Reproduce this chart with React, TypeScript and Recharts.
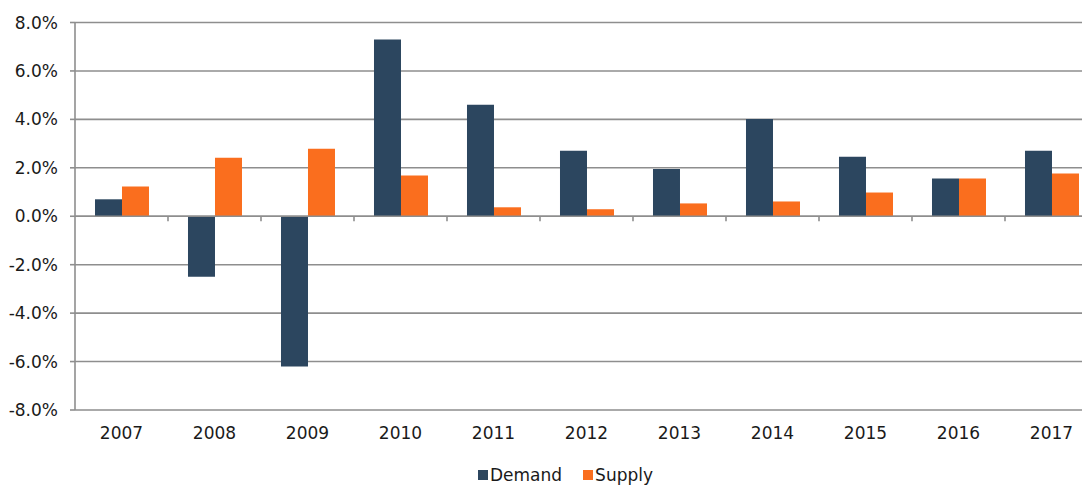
import React from "react";
import {
  BarChart,
  Bar,
  XAxis,
  YAxis,
  CartesianGrid,
  Legend,
  ReferenceLine,
} from "recharts";

const years = ["2007", "2008", "2009", "2010", "2011", "2012", "2013", "2014", "2015", "2016", "2017"];
const demand = [0.7, -2.5, -6.2, 7.3, 4.6, 2.7, 1.95, 4.02, 2.46, 1.56, 2.7];
const supply = [1.23, 2.42, 2.79, 1.68, 0.37, 0.29, 0.53, 0.61, 0.98, 1.56, 1.77];
const yTicks = [-8, -6, -4, -2, 0, 2, 4, 6, 8];

const data = years.map((y, i) => ({ year: y, Demand: demand[i], Supply: supply[i] }));

const DEMAND_COLOR = "#2C465F";
const SUPPLY_COLOR = "#FA6E1E";
const GRID = "#8e8e8e";
const FONT = "'DejaVu Sans', sans-serif";
const TEXT = "#1a1a1a";

const ZeroLine = (props: any) => {
  const { x1, y1, x2, y2 } = props;
  if (x1 == null) return null;
  const n = years.length;
  const step = (x2 - x1) / n;
  const ticks = [];
  for (let i = 1; i <= n; i++) {
    const x = x1 + i * step;
    ticks.push(<line key={i} x1={x} x2={x} y1={y1} y2={y1 + 5} stroke={GRID} strokeWidth={1.6} />);
  }
  return (
    <g>
      <line x1={x1} y1={y1} x2={x2} y2={y2} stroke={GRID} strokeWidth={1.6} />
      {ticks}
    </g>
  );
};

const LegendContent = () => (
  <div style={{ display: "flex", alignItems: "center", height: 22, fontFamily: FONT, fontSize: 17, color: TEXT }}>
    {[
      { name: "Demand", color: DEMAND_COLOR },
      { name: "Supply", color: SUPPLY_COLOR },
    ].map((it, i) => (
      <div key={it.name} style={{ display: "flex", alignItems: "center", marginLeft: i === 0 ? 0 : 21 }}>
        <span style={{ display: "inline-block", width: 10, height: 10, background: it.color, marginRight: 2 }} />
        <span>{it.name}</span>
      </div>
    ))}
  </div>
);

export default function App() {
  return (
    <div style={{ width: 1082, height: 477, overflow: "hidden" }}>
      <BarChart
        width={1100}
        height={477}
        data={data}
        margin={{ top: 14.5, right: 10, left: 0, bottom: 23 }}
        barCategoryGap="21.5%"
        barGap={0}
      >
        <CartesianGrid horizontal vertical={false} stroke={GRID} strokeWidth={1.6} strokeDasharray="" />
        <XAxis
          dataKey="year"
          axisLine={false}
          tickLine={false}
          tickSize={6}
          tickMargin={11}
          height={30}
          interval={0}
          tick={{ fontFamily: FONT, fontSize: 17, fill: TEXT }}
        />
        <YAxis
          domain={[-8, 8]}
          ticks={yTicks}
          width={67}
          interval={0}
          axisLine={{ stroke: GRID, strokeWidth: 1.6 }}
          tickLine={{ stroke: GRID, strokeWidth: 1.6 }}
          tickSize={5}
          tickMargin={12}
          tickFormatter={(v: number) => v.toFixed(1) + "%"}
          tick={{ fontFamily: FONT, fontSize: 17, fill: TEXT }}
        />
        <ReferenceLine y={0} shape={ZeroLine} />
        <Bar dataKey="Demand" fill={DEMAND_COLOR} isAnimationActive={false} />
        <Bar dataKey="Supply" fill={SUPPLY_COLOR} isAnimationActive={false} />
        <Legend
          verticalAlign="bottom"
          content={<LegendContent />}
          wrapperStyle={{ top: 456, left: 470, width: "auto", height: 22 }}
        />
      </BarChart>
    </div>
  );
}
